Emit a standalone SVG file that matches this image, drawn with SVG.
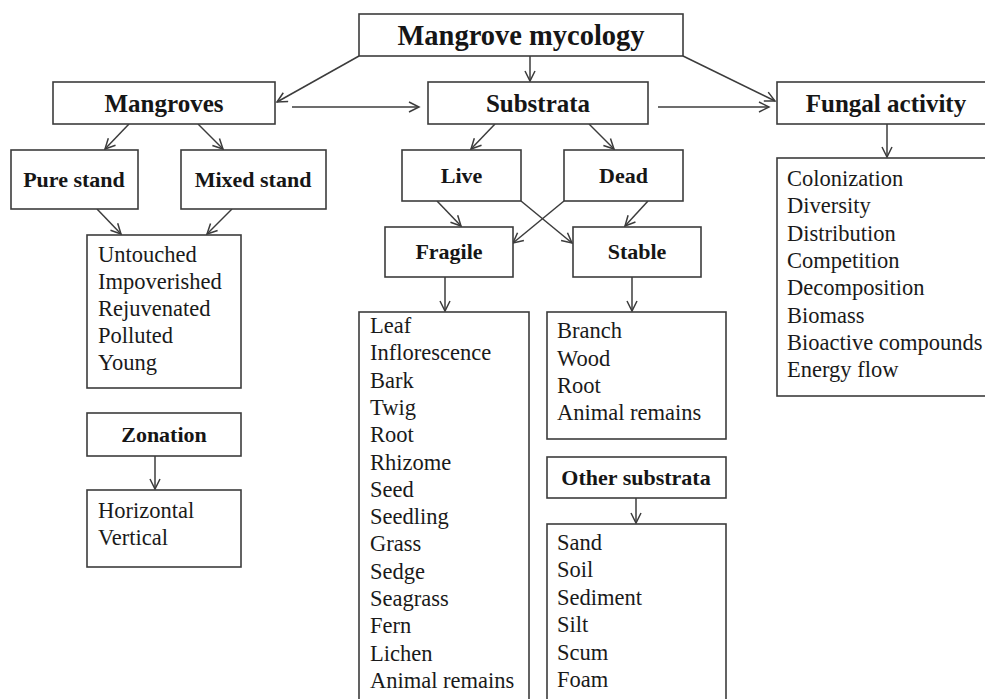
<svg xmlns="http://www.w3.org/2000/svg" width="985" height="699" viewBox="0 0 985 699">
<style>
.box{fill:#fff;stroke:#3c3c3c;stroke-width:1.6}
.h{font-family:"Liberation Serif","Times New Roman",serif;font-weight:bold;fill:#161616;text-anchor:middle}
.t{font-family:"Liberation Serif","Times New Roman",serif;font-size:22.5px;fill:#1a1a1a}
.c{fill:none;stroke:#3c3c3c;stroke-width:1.5}
</style>
<defs>
<marker id="ah" markerUnits="userSpaceOnUse" markerWidth="14" markerHeight="14" refX="11" refY="6" orient="auto">
<path d="M1,1 L11,6 L1,11" fill="none" stroke="#3c3c3c" stroke-width="1.5"/>
</marker>
</defs>
<rect width="985" height="699" fill="#fff"/>
<g id="connectors">
<line class="c" x1="359" y1="56" x2="277" y2="102" marker-end="url(#ah)"/>
<line class="c" x1="530" y1="56" x2="530" y2="81" marker-end="url(#ah)"/>
<line class="c" x1="683" y1="56" x2="775" y2="101" marker-end="url(#ah)"/>
<line class="c" x1="292" y1="107" x2="419" y2="107" marker-end="url(#ah)"/>
<line class="c" x1="658" y1="107" x2="769" y2="107" marker-end="url(#ah)"/>
<line class="c" x1="129" y1="124" x2="105" y2="149" marker-end="url(#ah)"/>
<line class="c" x1="198" y1="124" x2="223" y2="149" marker-end="url(#ah)"/>
<line class="c" x1="97" y1="209" x2="121" y2="234" marker-end="url(#ah)"/>
<line class="c" x1="232" y1="209" x2="207" y2="234" marker-end="url(#ah)"/>
<line class="c" x1="155" y1="456" x2="155" y2="489" marker-end="url(#ah)"/>
<line class="c" x1="495" y1="124" x2="471" y2="149" marker-end="url(#ah)"/>
<line class="c" x1="589" y1="124" x2="614" y2="149" marker-end="url(#ah)"/>
<line class="c" x1="437" y1="201" x2="461" y2="226" marker-end="url(#ah)"/>
<line class="c" x1="521" y1="201" x2="572" y2="243" marker-end="url(#ah)"/>
<line class="c" x1="564" y1="201" x2="513" y2="243" marker-end="url(#ah)"/>
<line class="c" x1="648" y1="201" x2="625" y2="226" marker-end="url(#ah)"/>
<line class="c" x1="445" y1="277" x2="445" y2="311" marker-end="url(#ah)"/>
<line class="c" x1="632" y1="277" x2="632" y2="311" marker-end="url(#ah)"/>
<line class="c" x1="636" y1="498" x2="636" y2="523" marker-end="url(#ah)"/>
<line class="c" x1="887" y1="124" x2="887" y2="157" marker-end="url(#ah)"/>
</g>
<g id="mycology"><rect class="box" x="359" y="14" width="324" height="42"/><text class="h" x="521" y="45" font-size="28.5">Mangrove mycology</text></g>
<g id="mangroves"><rect class="box" x="53" y="82" width="222" height="42"/><text class="h" x="164" y="112" font-size="25">Mangroves</text></g>
<g id="substrata"><rect class="box" x="428" y="82" width="220" height="42"/><text class="h" x="538" y="112" font-size="25">Substrata</text></g>
<g id="fungal"><rect class="box" x="777" y="82" width="218" height="42"/><text class="h" x="886" y="112" font-size="25">Fungal activity</text></g>
<g id="pure"><rect class="box" x="11" y="150" width="127" height="59"/><text class="h" x="74" y="187" font-size="22">Pure stand</text></g>
<g id="mixed"><rect class="box" x="181" y="150" width="145" height="59"/><text class="h" x="253" y="187" font-size="22">Mixed stand</text></g>
<g id="standtypes"><rect class="box" x="87" y="235" width="154" height="153"/>
<text class="t" x="98" y="262">Untouched</text><text class="t" x="98" y="289">Impoverished</text><text class="t" x="98" y="316">Rejuvenated</text><text class="t" x="98" y="343">Polluted</text><text class="t" x="98" y="370">Young</text></g>
<g id="zonation"><rect class="box" x="87" y="413" width="154" height="43"/><text class="h" x="164" y="442" font-size="22">Zonation</text></g>
<g id="zonetypes"><rect class="box" x="87" y="490" width="154" height="77"/>
<text class="t" x="98" y="518">Horizontal</text><text class="t" x="98" y="545">Vertical</text></g>
<g id="live"><rect class="box" x="402" y="150" width="119" height="51"/><text class="h" x="461.5" y="183" font-size="22">Live</text></g>
<g id="dead"><rect class="box" x="564" y="150" width="119" height="51"/><text class="h" x="623.5" y="183" font-size="22">Dead</text></g>
<g id="fragile"><rect class="box" x="385" y="227" width="128" height="50"/><text class="h" x="449" y="259" font-size="22">Fragile</text></g>
<g id="stable"><rect class="box" x="573" y="227" width="128" height="50"/><text class="h" x="637" y="259" font-size="22">Stable</text></g>
<g id="fragilelist"><rect class="box" x="359" y="312" width="170" height="400"/>
<text class="t" x="370" y="333">Leaf</text><text class="t" x="370" y="360.3">Inflorescence</text><text class="t" x="370" y="387.6">Bark</text><text class="t" x="370" y="414.9">Twig</text><text class="t" x="370" y="442.2">Root</text><text class="t" x="370" y="469.5">Rhizome</text><text class="t" x="370" y="496.8">Seed</text><text class="t" x="370" y="524.1">Seedling</text><text class="t" x="370" y="551.4">Grass</text><text class="t" x="370" y="578.7">Sedge</text><text class="t" x="370" y="606">Seagrass</text><text class="t" x="370" y="633.3">Fern</text><text class="t" x="370" y="660.6">Lichen</text><text class="t" x="370" y="687.9">Animal remains</text></g>
<g id="stablelist"><rect class="box" x="547" y="312" width="179" height="127"/>
<text class="t" x="557" y="338">Branch</text><text class="t" x="557" y="365.5">Wood</text><text class="t" x="557" y="393">Root</text><text class="t" x="557" y="420">Animal remains</text></g>
<g id="other"><rect class="box" x="547" y="457" width="179" height="41"/><text class="h" x="636" y="485" font-size="22">Other substrata</text></g>
<g id="otherlist"><rect class="box" x="547" y="524" width="179" height="200"/>
<text class="t" x="557" y="550">Sand</text><text class="t" x="557" y="577.4">Soil</text><text class="t" x="557" y="604.8">Sediment</text><text class="t" x="557" y="632.2">Silt</text><text class="t" x="557" y="659.6">Scum</text><text class="t" x="557" y="687">Foam</text></g>
<g id="fungallist"><rect class="box" x="777" y="158" width="218" height="238"/>
<text class="t" x="787" y="186">Colonization</text><text class="t" x="787" y="213.3">Diversity</text><text class="t" x="787" y="240.6">Distribution</text><text class="t" x="787" y="267.9">Competition</text><text class="t" x="787" y="295.2">Decomposition</text><text class="t" x="787" y="322.5">Biomass</text><text class="t" x="787" y="349.8">Bioactive compounds</text><text class="t" x="787" y="377.1">Energy flow</text></g>
</svg>
